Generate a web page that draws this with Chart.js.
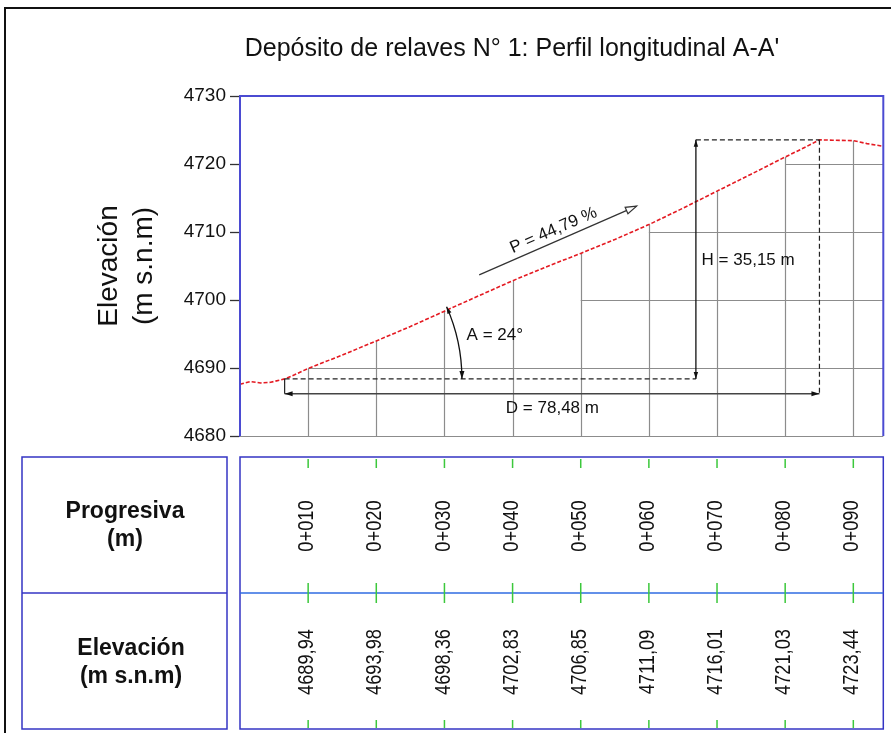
<!DOCTYPE html>
<html>
<head>
<meta charset="utf-8">
<script src="https://cdn.jsdelivr.net/npm/chart.js@4.4.1/dist/chart.umd.min.js"></script>
<style>
html,body{margin:0;padding:0;background:#fff;}
canvas{display:block;}
</style>
</head>
<body>
<canvas id="c" width="891" height="733"></canvas>
<script>
// ---- Data ----
const chainage  = [0, 1.5, 3, 4.5, 6.55, 8, 10, 15, 20, 25, 30, 35, 40, 45, 50, 55, 60, 65, 70, 75, 80, 83, 85.03, 87, 90, 92, 94.4];
const elevation = [4687.6, 4688.0, 4687.8, 4687.9, 4688.4, 4689.0, 4689.94, 4691.9, 4693.98, 4696.1, 4698.36, 4700.6, 4702.83, 4704.9, 4706.85, 4708.9, 4711.09, 4713.5, 4716.01, 4718.5, 4721.03, 4722.5, 4723.55, 4723.5, 4723.44, 4723.0, 4722.6];

const stationChainage  = [10, 20, 30, 40, 50, 60, 70, 80, 90];
const stationLabels    = ['0+010', '0+020', '0+030', '0+040', '0+050', '0+060', '0+070', '0+080', '0+090'];
const stationElevation = [4689.94, 4693.98, 4698.36, 4702.83, 4706.85, 4711.09, 4716.01, 4721.03, 4723.44];

const yTickValues   = [4680, 4690, 4700, 4710, 4720, 4730];
const gridLevels    = [4690, 4700, 4710, 4720];
const gridLevelFrom = [10, 50, 60, 80];

const dimD = 78.48;   // m
const dimH = 35.15;   // m
const dimP = 44.79;   // %
const dimA = 24;      // degrees
const toePoint = {x: 6.55, y: 4688.4};

const titleText  = "Depósito de relaves N° 1: Perfil longitudinal A-A'";
const yTitle     = ['Elevación', '(m s.n.m)'];
const rowTitles  = [['Progresiva', '(m)'], ['Elevación', '(m s.n.m)']];

// ---- annotation layout (data units) ----
const layoutAnn = {
  hLineX: 66.9, dLineY: 4686.2,
  pFrom: {x: 35.1, y: 4703.7}, pTo: {x: 58.2, y: 4713.8},
  aArcTo: 30.3,
  aText: {x: 33.25, y: 4694.85},
  hText: {x: 67.74, y: 4705.9},
  dText: {x: 45.84, y: 4684.07}
};

const FONT = '"Liberation Sans", Arial, sans-serif';
Chart.defaults.font.family = FONT;

const fmt = v => v.toFixed(2).replace('.', ',');

function arrowHead(ctx, x, y, ang, len, half, open) {
  ctx.save();
  ctx.translate(x, y);
  ctx.rotate(ang);
  ctx.beginPath();
  ctx.moveTo(0, 0);
  ctx.lineTo(-len, -half);
  ctx.lineTo(-len, half);
  ctx.closePath();
  if (open) { ctx.fillStyle = '#fff'; ctx.fill(); ctx.stroke(); }
  else { ctx.fill(); }
  ctx.restore();
}

const profilePlugin = {
  id: 'profile',
  beforeDraw(chart) {
    const ctx = chart.ctx;
    ctx.save();
    ctx.fillStyle = '#fff';
    ctx.fillRect(0, 0, chart.width, chart.height);
    ctx.strokeStyle = '#111';
    ctx.lineWidth = 2;
    ctx.strokeRect(5, 8, 1000, 1000);
    // title
    ctx.fillStyle = '#111';
    ctx.font = '25px ' + FONT;
    ctx.textAlign = 'center';
    ctx.textBaseline = 'alphabetic';
    ctx.fillText(titleText, 512, 56);
    ctx.restore();
  },
  beforeDatasetsDraw(chart) {
    const ctx = chart.ctx, xs = chart.scales.x, ys = chart.scales.y, a = chart.chartArea;
    ctx.save();
    ctx.strokeStyle = '#8c8c8c';
    ctx.lineWidth = 1.2;
    // vertical grid up to the ground
    stationChainage.forEach((c, i) => {
      const x = Math.round(xs.getPixelForValue(c)) + 0.5;
      ctx.beginPath();
      ctx.moveTo(x, a.bottom);
      ctx.lineTo(x, ys.getPixelForValue(stationElevation[i]));
      ctx.stroke();
    });
    // horizontal grid under the ground
    gridLevels.forEach((lv, i) => {
      const y = Math.round(ys.getPixelForValue(lv)) + 0.5;
      ctx.beginPath();
      ctx.moveTo(xs.getPixelForValue(gridLevelFrom[i]), y);
      ctx.lineTo(a.right, y);
      ctx.stroke();
    });
    // bottom line
    ctx.beginPath();
    ctx.moveTo(a.left, a.bottom + 0.5);
    ctx.lineTo(a.right, a.bottom + 0.5);
    ctx.stroke();
    ctx.restore();
  },
  afterDatasetsDraw(chart) {
    const ctx = chart.ctx, xs = chart.scales.x, ys = chart.scales.y;
    const X = v => xs.getPixelForValue(v), Y = v => ys.getPixelForValue(v);
    const L = layoutAnn;
    const crest = {x: toePoint.x + dimD, y: toePoint.y + dimH};
    ctx.save();
    ctx.lineWidth = 1.2;
    ctx.strokeStyle = '#222';
    ctx.fillStyle = '#111';
    // dashed reference lines
    ctx.setLineDash([5, 3]);
    ctx.beginPath();
    ctx.moveTo(X(toePoint.x), Y(toePoint.y)); ctx.lineTo(X(L.hLineX), Y(toePoint.y));
    ctx.moveTo(X(L.hLineX), Y(crest.y)); ctx.lineTo(X(crest.x), Y(crest.y));
    ctx.moveTo(X(crest.x), Y(crest.y)); ctx.lineTo(X(crest.x), Y(L.dLineY));
    ctx.stroke();
    ctx.setLineDash([]);
    // small tick at toe
    ctx.beginPath();
    ctx.moveTo(X(toePoint.x), Y(toePoint.y)); ctx.lineTo(X(toePoint.x), Y(L.dLineY));
    ctx.stroke();
    // D dimension
    ctx.strokeStyle = '#444';
    ctx.lineWidth = 1.5;
    ctx.beginPath();
    ctx.moveTo(X(toePoint.x), Y(L.dLineY)); ctx.lineTo(X(crest.x), Y(L.dLineY));
    ctx.stroke();
    arrowHead(ctx, X(toePoint.x), Y(L.dLineY), Math.PI, 8, 2.5);
    arrowHead(ctx, X(crest.x), Y(L.dLineY), 0, 8, 2.5);
    // H dimension
    ctx.strokeStyle = '#111';
    ctx.lineWidth = 1.3;
    ctx.beginPath();
    ctx.moveTo(X(L.hLineX), Y(toePoint.y)); ctx.lineTo(X(L.hLineX), Y(crest.y));
    ctx.stroke();
    arrowHead(ctx, X(L.hLineX), Y(crest.y), -Math.PI / 2, 7, 2.2);
    arrowHead(ctx, X(L.hLineX), Y(toePoint.y), Math.PI / 2, 7, 2.2);
    // angle arc
    const cx = X(toePoint.x), cy = Y(toePoint.y);
    const r = Math.hypot(X(L.aArcTo) - cx, Y(toePoint.y + (L.aArcTo - toePoint.x) * dimP / 100) - cy);
    const ang = dimA * Math.PI / 180;
    ctx.beginPath();
    ctx.arc(cx, cy, r, -ang, 0);
    ctx.stroke();
    arrowHead(ctx, cx + r, cy, Math.PI / 2, 8, 2.5);
    arrowHead(ctx, cx + r * Math.cos(ang), cy - r * Math.sin(ang), -Math.PI / 2 - ang, 7, 2.2);
    // P arrow
    const p0 = {x: X(L.pFrom.x), y: Y(L.pFrom.y)}, p1 = {x: X(L.pTo.x), y: Y(L.pTo.y)};
    ctx.strokeStyle = '#333';
    ctx.lineWidth = 1.2;
    ctx.beginPath();
    ctx.moveTo(p0.x, p0.y); ctx.lineTo(p1.x, p1.y);
    ctx.stroke();
    const pa = Math.atan2(p1.y - p0.y, p1.x - p0.x);
    arrowHead(ctx, p1.x, p1.y, pa, 11, 3.5, true);
    // texts
    ctx.fillStyle = '#111';
    ctx.font = '17px ' + FONT;
    ctx.textBaseline = 'middle';
    ctx.save();
    const mx = (p0.x + p1.x) / 2, my = (p0.y + p1.y) / 2;
    ctx.translate(mx + 11 * Math.sin(pa), my - 11 * Math.cos(pa));
    ctx.rotate(pa);
    ctx.textAlign = 'center';
    ctx.fillText('P = ' + fmt(dimP) + ' %', 0, 0);
    ctx.restore();
    ctx.textAlign = 'left';
    ctx.fillText('A = ' + dimA + '°', X(L.aText.x), Y(L.aText.y));
    ctx.fillText('H = ' + fmt(dimH) + ' m', X(L.hText.x), Y(L.hText.y));
    ctx.textAlign = 'center';
    ctx.fillText('D = ' + fmt(dimD) + ' m', X(L.dText.x), Y(L.dText.y));
    ctx.restore();
  },
  afterDraw(chart) {
    const ctx = chart.ctx, xs = chart.scales.x, a = chart.chartArea;
    ctx.save();
    // plot frame (top / right / left)
    ctx.strokeStyle = '#4b4bd2';
    ctx.lineWidth = 2;
    ctx.beginPath();
    ctx.moveTo(a.left, a.bottom);
    ctx.lineTo(a.left, a.top);
    ctx.lineTo(a.right, a.top);
    ctx.lineTo(a.right, a.bottom);
    ctx.stroke();

    // ---- band table ----
    const top = 457, mid = 593, bot = 729;
    ctx.lineWidth = 1.5;
    ctx.strokeStyle = '#3434c4';
    ctx.strokeRect(22, top, 205, bot - top);
    ctx.beginPath(); ctx.moveTo(22, mid); ctx.lineTo(227, mid); ctx.stroke();
    ctx.strokeRect(a.left, top, a.right - a.left, bot - top);
    ctx.strokeStyle = '#2f6be2';
    ctx.beginPath(); ctx.moveTo(a.left, mid); ctx.lineTo(a.right, mid); ctx.stroke();

    // green station ticks
    ctx.strokeStyle = '#3cc83c';
    ctx.lineWidth = 1.5;
    stationChainage.forEach(c => {
      const x = xs.getPixelForValue(c);
      ctx.beginPath();
      ctx.moveTo(x, top + 2); ctx.lineTo(x, top + 11);
      ctx.moveTo(x, mid - 10); ctx.lineTo(x, mid + 10);
      ctx.moveTo(x, bot - 9); ctx.lineTo(x, bot - 1);
      ctx.stroke();
    });

    // row titles
    ctx.fillStyle = '#111';
    ctx.font = 'bold 23px ' + FONT;
    ctx.textAlign = 'center';
    ctx.textBaseline = 'alphabetic';
    ctx.fillText(rowTitles[0][0], 125, 518);
    ctx.fillText(rowTitles[0][1], 125, 546);
    ctx.fillText(rowTitles[1][0], 131, 655);
    ctx.fillText(rowTitles[1][1], 131, 683);

    // rotated band values
    ctx.font = '22px ' + FONT;
    ctx.textBaseline = 'middle';
    stationChainage.forEach((c, i) => {
      const x = xs.getPixelForValue(c) - 1;
      ctx.save();
      ctx.translate(x, 526);
      ctx.rotate(-Math.PI / 2);
      ctx.scale(0.83, 1);
      ctx.fillText(stationLabels[i], 0, 0);
      ctx.restore();
      ctx.save();
      ctx.translate(x, 662);
      ctx.rotate(-Math.PI / 2);
      ctx.scale(0.83, 1);
      ctx.fillText(fmt(stationElevation[i]), 0, 0);
      ctx.restore();
    });
    ctx.restore();
  }
};

new Chart(document.getElementById('c'), {
  type: 'line',
  data: {
    datasets: [{
      data: chainage.map((c, i) => ({x: c, y: elevation[i]})),
      borderColor: '#e41a22',
      borderWidth: 1.6,
      borderDash: [4, 2],
      pointRadius: 0,
      tension: 0,
      fill: false
    }]
  },
  options: {
    responsive: false,
    animation: false,
    devicePixelRatio: 1,
    layout: {padding: {left: 0, top: 96, right: 7.7, bottom: 297}},
    plugins: {
      legend: {display: false},
      tooltip: {enabled: false},
      title: {display: false}
    },
    scales: {
      x: {
        type: 'linear', min: 0, max: 94.4, display: false
      },
      y: {
        type: 'linear', position: 'left', min: 4680, max: 4730,
        afterBuildTicks: s => { s.ticks = yTickValues.map(v => ({value: v})); },
        afterFit: s => { s.width = 240; },
        ticks: {
          color: '#111', padding: 4,
          font: {size: 19, family: FONT},
          callback: v => String(v)
        },
        grid: {drawOnChartArea: false, drawTicks: true, tickLength: 10, tickColor: '#333', tickWidth: 1.3},
        border: {display: true, color: '#4b4bd2', width: 2},
        title: {
          display: true, text: yTitle, color: '#111',
          font: {size: 28, family: FONT, lineHeight: 1.25},
          padding: {top: 91.5, bottom: 0}
        }
      }
    }
  },
  plugins: [profilePlugin]
});
</script>
</body>
</html>
